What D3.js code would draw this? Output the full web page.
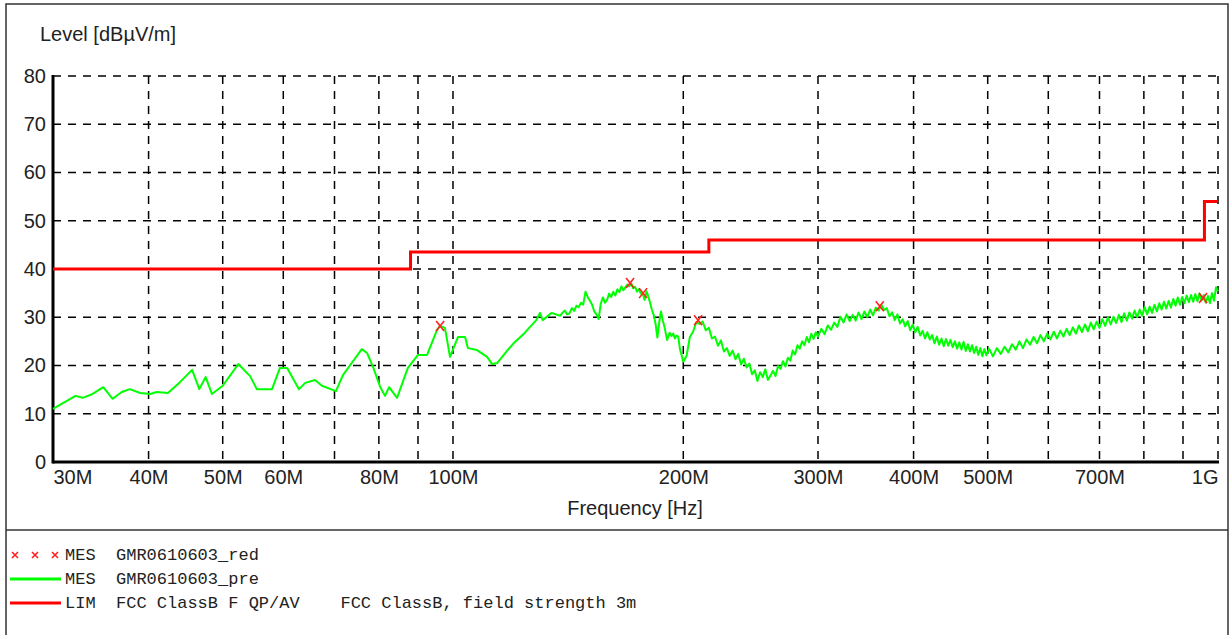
<!DOCTYPE html>
<html>
<head>
<meta charset="utf-8">
<script src="https://cdn.jsdelivr.net/npm/d3@7"></script>
<style>
  body { margin: 0; background: #fff; }
  text { font-family: "Liberation Sans", Arial, sans-serif; fill: #222; }
  .mono { font-family: "Liberation Mono", "Courier New", monospace; font-size: 17px; white-space: pre; }
</style>
</head>
<body>
<div class="chart"></div>
<script>
// Data (frequency in MHz, level in dBuV/m)
const levelTicks = [0, 10, 20, 30, 40, 50, 60, 70, 80];
const freqGrid = [40, 50, 60, 70, 80, 90, 100, 200, 300, 400, 500, 600, 700, 800, 900, 1000];
const freqLabels = [
    { f: 30, label: "30M" }, { f: 40, label: "40M" }, { f: 50, label: "50M" },
    { f: 60, label: "60M" }, { f: 80, label: "80M" }, { f: 100, label: "100M" },
    { f: 200, label: "200M" }, { f: 300, label: "300M" }, { f: 400, label: "400M" },
    { f: 500, label: "500M" }, { f: 700, label: "700M" }, { f: 1000, label: "1G" }
];

// FCC Class B limit, 3 m (step after each frequency)
const limitSteps = [[30, 40], [88, 43.5], [216, 46], [960, 54], [1000, 54]];

// final measurement points (x markers)
const finalPoints = [[96.2, 28.2], [170.4, 37.1], [177.2, 35.0], [209.1, 29.4], [361.3, 32.3], [956, 34.0]];

// pre-scan trace
const preScanLow = [
    [30, 11.0], [32.1, 13.7], [32.8, 13.3], [33.8, 14.1], [34.9, 15.5], [35.9, 13.1],
    [36.9, 14.5], [37.8, 15.1], [39.0, 14.3], [40.2, 14.1], [41.0, 14.5], [42.4, 14.3],
    [44.0, 16.6], [45.6, 19.1], [46.6, 15.1], [47.5, 17.6], [48.4, 14.1], [50.0, 15.8],
    [52.4, 20.3], [54.3, 17.8], [55.4, 15.1], [58.0, 15.1], [59.4, 19.5], [60.7, 19.5],
    [62.9, 15.1], [64.1, 16.4], [66.0, 17.0], [67.4, 15.8], [70.3, 14.7], [71.8, 18.0],
    [73.4, 20.1], [76.0, 23.4], [77.2, 22.6], [78.6, 19.7], [80.3, 15.6], [81.5, 13.7],
    [82.5, 15.5], [84.5, 13.3], [87.3, 19.5], [90.0, 22.2], [92.5, 22.2], [95.3, 27.4],
    [96.2, 28.2], [97.6, 27.8], [99.1, 21.8], [101.5, 25.9], [103.7, 25.9], [104.6, 23.6],
    [107.5, 23.2], [110.8, 21.8], [112.5, 20.3], [114.2, 20.5], [117.6, 23.0], [120, 24.6],
    [124, 26.7], [126.1, 28.0], [128.5, 29.4], [129.9, 30.9], [131, 29.4], [134.5, 30.9]
];
const preScanMid = [
    [138, 30.3], [139, 30.9], [140, 31.4], [141, 30.6], [142, 30.8], [143, 31.9],
    [144, 31.3], [145, 32.4], [146, 32.1], [147, 33.0], [148, 32.6], [149, 35.3],
    [150, 34.2], [151, 33.4], [152, 32.6], [153, 31.2], [154, 30.6], [155, 29.6],
    [156, 32.8], [157, 34.1], [158, 33.0], [159, 33.6], [160, 34.9], [161, 34.2],
    [162, 35.3], [163, 34.5], [164, 35.8], [165, 35.2], [166, 36.4], [167, 35.6],
    [168, 36.2], [169, 36.8], [170, 36.4], [171, 37.0], [172, 36.0], [173, 36.3],
    [174, 35.3], [175, 35.8], [176, 34.9], [177, 35.0], [178, 33.6], [179, 35.4],
    [180, 34.3], [181, 33.0], [182, 31.5], [183, 30.4], [184, 28.6], [185, 25.8],
    [186, 28.9], [187, 31.2], [188, 29.4], [189, 28.0], [190.5, 25.3], [192, 26.8],
    [193, 26.1], [194, 26.6], [195, 25.6], [196, 26.2], [197, 26.0], [198, 23.4],
    [200, 20.8], [202, 22.0], [204, 25.9], [206, 27.0], [208, 29.0], [210, 28.6],
    [212, 29.1], [214, 27.3], [216, 27.8], [218, 25.6], [220, 26.0], [222, 24.1],
    [224, 25.2], [226, 22.9], [228, 23.6], [230, 22.0], [232, 23.1], [234, 21.3],
    [236, 22.4], [238, 20.2], [240, 21.4], [242, 19.6], [244, 20.4], [246, 18.2],
    [248, 19.0], [250, 16.8], [252, 18.6], [254, 17.6], [256, 19.2], [258, 17.0],
    [260, 17.9], [262, 18.9], [264, 17.8], [266, 19.9], [268, 19.3], [270, 20.9],
    [272, 19.8], [274, 21.6], [276, 21.0], [278, 23.1], [280, 22.3], [282, 24.2],
    [284, 23.5], [286, 25.0], [288, 24.2], [290, 25.9], [292, 24.8], [294, 26.6],
    [296, 25.5], [298, 26.9], [300, 26.0]
];
const preScanHigh = [
    [303, 27.6], [306, 26.5], [309, 28.3], [312, 27.4], [315, 28.9], [318, 28.0],
    [321, 30.1], [324, 28.9], [327, 30.6], [330, 29.2], [333, 30.5], [336, 29.3],
    [339, 31.0], [342, 29.6], [345, 31.2], [348, 30.0], [351, 31.6], [354, 30.4],
    [357, 32.0], [360, 31.4], [363, 32.6], [366, 31.5], [369, 31.9], [372, 30.2],
    [375, 31.0], [378, 29.4], [381, 30.6], [384, 28.7], [387, 29.6], [390, 28.1],
    [393, 29.2], [396, 27.3], [399, 28.5], [402, 26.9], [405, 28.0], [408, 26.2],
    [411, 27.2], [414, 25.6], [417, 26.9], [420, 25.4], [423, 26.3], [426, 24.6],
    [429, 26.0], [432, 24.3], [435, 25.6], [438, 24.0], [441, 25.5], [444, 24.1],
    [447, 25.3], [450, 23.8], [453, 25.0], [456, 23.5], [459, 24.8], [462, 23.3],
    [465, 24.9], [468, 23.0], [471, 24.4], [474, 22.9], [477, 24.2], [480, 22.6],
    [483, 23.9], [486, 22.2], [489, 23.6], [492, 21.9], [495, 23.4], [498, 22.1],
    [502, 23.5], [508, 21.9], [514, 23.6], [520, 22.4], [526, 23.9], [532, 22.7],
    [538, 24.4], [544, 23.3], [550, 25.0], [556, 23.6], [562, 25.4], [568, 24.3],
    [574, 25.9], [580, 24.6], [586, 26.3], [592, 25.0], [598, 26.6], [604, 25.4],
    [610, 27.0], [616, 25.6], [622, 27.2], [628, 26.0], [634, 27.6], [640, 26.3],
    [646, 27.9], [652, 26.6], [658, 28.3], [664, 26.9], [670, 28.5], [676, 27.1],
    [682, 28.9], [688, 27.5], [694, 29.1], [700, 27.8], [706, 29.6], [712, 28.2],
    [718, 30.0], [724, 28.5], [730, 30.1], [736, 28.8], [742, 30.5], [748, 29.0],
    [754, 30.8], [760, 29.3], [766, 31.0], [772, 29.7], [778, 31.4], [784, 30.0],
    [790, 31.6], [796, 30.3], [802, 32.1], [808, 30.6], [814, 32.2], [820, 30.9],
    [826, 32.6], [832, 31.2], [838, 32.9], [844, 31.6], [850, 33.2], [856, 31.8],
    [862, 33.4], [868, 32.0], [874, 33.8], [880, 32.4], [886, 34.1], [892, 32.6],
    [898, 34.2], [904, 32.9], [910, 34.5], [916, 33.1], [922, 34.6], [928, 33.2],
    [934, 34.8], [940, 33.3], [946, 34.9], [952, 33.5], [958, 34.6], [964, 33.0],
    [970, 34.4], [976, 32.9], [982, 35.0], [988, 33.4], [994, 36.2], [1000, 35.4]
];

const legendRows = [
    "MES  GMR0610603_red",
    "MES  GMR0610603_pre",
    "LIM  FCC ClassB F QP/AV    FCC ClassB, field strength 3m"
];

function drawChart() {
    const width = 1231;
    const height = 635;
    const plot = { left: 53, right: 1218, top: 76, bottom: 462 };

    const svg = d3.select(".chart").append("svg")
        .attr("width", width)
        .attr("height", height);

    svg.append("rect").attr("width", width).attr("height", height).attr("fill", "#fff");

    // outer frame and separator
    svg.append("rect")
        .attr("x", 6).attr("y", 4)
        .attr("width", 1222).attr("height", 660)
        .attr("fill", "none").attr("stroke", "#333").attr("stroke-width", 1.5);
    svg.append("line")
        .attr("x1", 6).attr("x2", 1228).attr("y1", 530).attr("y2", 530)
        .attr("stroke", "#333").attr("stroke-width", 1.5);

    const xScale = d3.scaleLog().domain([30, 1000]).range([plot.left, plot.right]);
    const yScale = d3.scaleLinear().domain([0, 80]).range([plot.bottom, plot.top]);

    const g = svg.append("g");

    // dashed grid
    g.selectAll(".vgrid").data(freqGrid).enter().append("line")
        .attr("x1", d => xScale(d)).attr("x2", d => xScale(d))
        .attr("y1", plot.top).attr("y2", plot.bottom)
        .attr("stroke", "#000").attr("stroke-width", 1.5)
        .attr("stroke-dasharray", "8,7");
    g.selectAll(".hgrid").data(levelTicks.filter(d => d > 0)).enter().append("line")
        .attr("x1", plot.left).attr("x2", plot.right)
        .attr("y1", d => yScale(d)).attr("y2", d => yScale(d))
        .attr("stroke", "#000").attr("stroke-width", 1.5)
        .attr("stroke-dasharray", "8,7");

    // solid left and bottom axis lines
    g.append("line")
        .attr("x1", plot.left).attr("x2", plot.left)
        .attr("y1", plot.top - 1).attr("y2", plot.bottom + 1.5)
        .attr("stroke", "#000").attr("stroke-width", 3);
    g.append("line")
        .attr("x1", plot.left).attr("x2", plot.right + 1)
        .attr("y1", plot.bottom).attr("y2", plot.bottom)
        .attr("stroke", "#000").attr("stroke-width", 3);

    // y axis labels
    const yAxis = d3.axisLeft(yScale).tickValues(levelTicks).tickSize(0).tickPadding(7);
    const yg = g.append("g").attr("transform", `translate(${plot.left},0)`).call(yAxis);
    yg.select(".domain").remove();
    yg.selectAll("text").style("font-size", "20px").attr("fill", "#222")
        .style("font-family", "'Liberation Sans', Arial, sans-serif");

    // x axis labels
    const xAxis = d3.axisBottom(xScale)
        .tickValues(freqLabels.map(d => d.f))
        .tickFormat((d, i) => freqLabels[i].label)
        .tickSize(0).tickPadding(8);
    const xg = g.append("g").attr("transform", `translate(0,${plot.bottom})`).call(xAxis);
    xg.select(".domain").remove();
    xg.selectAll("text").style("font-size", "20px").attr("fill", "#222")
        .style("font-family", "'Liberation Sans', Arial, sans-serif")
        .attr("text-anchor", (d, i) => i === 0 ? "start" : (i === freqLabels.length - 1 ? "end" : "middle"));

    // axis titles
    svg.append("text").attr("x", 40).attr("y", 41)
        .style("font-size", "20px").text("Level [dBµV/m]");
    svg.append("text").attr("x", 635).attr("y", 515)
        .attr("text-anchor", "middle")
        .style("font-size", "20px").text("Frequency [Hz]");

    // limit line
    const limitLine = d3.line()
        .x(d => xScale(d[0])).y(d => yScale(d[1]))
        .curve(d3.curveStepAfter);
    g.append("path").datum(limitSteps)
        .attr("d", limitLine)
        .attr("fill", "none").attr("stroke", "#ff0000").attr("stroke-width", 3);

    // pre-scan trace
    const trace = preScanLow.concat(preScanMid, preScanHigh);
    const traceLine = d3.line().x(d => xScale(d[0])).y(d => yScale(d[1]));
    g.append("path").datum(trace)
        .attr("d", traceLine)
        .attr("fill", "none").attr("stroke", "#00ff00").attr("stroke-width", 2)
        .attr("stroke-linejoin", "round");

    // final markers
    const marks = g.selectAll(".mark").data(finalPoints).enter().append("g")
        .attr("transform", d => `translate(${xScale(d[0])},${yScale(d[1])})`);
    marks.append("path").attr("d", "M-4,-5L4,5M4,-5L-4,5")
        .attr("stroke", "#ff2020").attr("stroke-width", 1.6).attr("fill", "none");

    // legend
    const lg = svg.append("g");
    const rowY = [555, 579, 603];
    lg.selectAll(".lt").data(legendRows).enter().append("text")
        .attr("class", "mono")
        .attr("x", 65).attr("y", (d, i) => rowY[i] + 5)
        .attr("fill", "#333")
        .text(d => d);
    [15, 35, 55].forEach(cx => {
        lg.append("path")
            .attr("d", `M${cx - 3},${rowY[0] - 3}L${cx + 3},${rowY[0] + 3}M${cx + 3},${rowY[0] - 3}L${cx - 3},${rowY[0] + 3}`)
            .attr("stroke", "#ff2020").attr("stroke-width", 1.6);
    });
    lg.append("line").attr("x1", 10).attr("x2", 61).attr("y1", rowY[1]).attr("y2", rowY[1])
        .attr("stroke", "#00ff00").attr("stroke-width", 3);
    lg.append("line").attr("x1", 10).attr("x2", 61).attr("y1", rowY[2]).attr("y2", rowY[2])
        .attr("stroke", "#ff0000").attr("stroke-width", 3);
}

drawChart();
</script>
</body>
</html>
